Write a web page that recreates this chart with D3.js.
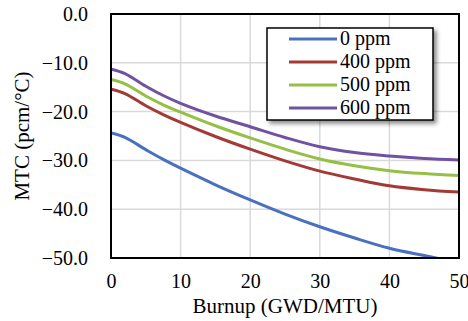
<!DOCTYPE html>
<html lang="en">
<head>
<meta charset="UTF-8">
<title>MTC vs Burnup</title>
<script src="https://d3js.org/d3.v7.min.js"></script>
<style>
    body { margin: 0; background: #ffffff; }
    svg { display: block; }
</style>
</head>
<body>
<svg id="chart" width="468" height="321"></svg>
<script>
    // data
    const burnup = [0, 2, 5, 7.5, 10, 15, 20, 25, 30, 35, 40, 45, 50];
    const mtc0 = [-24.4, -25.3, -27.8, -29.8, -31.6, -35.0, -38.1, -41.0, -43.6, -45.9, -48.0, -49.5, -50.9];
    const mtc400 = [-15.4, -16.3, -18.8, -20.6, -22.2, -25.1, -27.7, -30.1, -32.2, -33.8, -35.2, -36.0, -36.5];
    const mtc500 = [-13.4, -14.3, -16.8, -18.6, -20.1, -22.9, -25.4, -27.7, -29.7, -31.1, -32.1, -32.7, -33.1];
    const mtc600 = [-11.3, -12.2, -14.8, -16.7, -18.3, -20.9, -23.1, -25.3, -27.2, -28.4, -29.1, -29.6, -29.9];
    const seriesNames = ["0 ppm", "400 ppm", "500 ppm", "600 ppm"];
    const seriesColors = ["#4a70c0", "#a33a36", "#95bf45", "#7152a0"];
    const xTicks = [0, 10, 20, 30, 40, 50];
    const yTicks = [0, -10, -20, -30, -40, -50];

    const allSeries = [mtc0, mtc400, mtc500, mtc600];

    const margin = {top: 14, right: 9, bottom: 63, left: 111};
    const width = 468 - margin.left - margin.right;
    const height = 321 - margin.top - margin.bottom;

    const svg = d3.select("#chart");
    const g = svg.append("g").attr("transform", `translate(${margin.left},${margin.top})`);

    const x = d3.scaleLinear().domain([0, 50]).range([0, width]);
    const y = d3.scaleLinear().domain([-50, 0]).range([height, 0]);

    // grid lines
    g.append("g")
        .selectAll("line")
        .data(xTicks)
        .join("line")
        .attr("x1", d => x(d)).attr("x2", d => x(d))
        .attr("y1", 0).attr("y2", height)
        .attr("stroke", "#d9d9d9").attr("stroke-width", 1.5);
    g.append("g")
        .selectAll("line")
        .data(yTicks)
        .join("line")
        .attr("x1", 0).attr("x2", width)
        .attr("y1", d => y(d)).attr("y2", d => y(d))
        .attr("stroke", "#d9d9d9").attr("stroke-width", 1.5);

    // tick labels via axes
    const xAxis = g.append("g")
        .attr("transform", `translate(0,${height})`)
        .call(d3.axisBottom(x).tickValues(xTicks).tickSize(0).tickPadding(16).tickFormat(d3.format("d")));
    xAxis.select(".domain").remove();
    xAxis.attr("font-size", 20);

    const yAxis = g.append("g")
        .call(d3.axisLeft(y).tickValues(yTicks).tickSize(0).tickPadding(23).tickFormat(d3.format(".1f")));
    yAxis.select(".domain").remove();
    yAxis.attr("font-size", 20);

    // clip for lines
    g.append("clipPath").attr("id", "plotclip")
        .append("rect").attr("x", 0).attr("y", -2).attr("width", width).attr("height", height + 1);

    const line = d3.line()
        .x((d, i) => x(burnup[i]))
        .y(d => y(d))
        .curve(d3.curveCatmullRom.alpha(0.5));

    g.append("g").attr("clip-path", "url(#plotclip)")
        .selectAll("path")
        .data(allSeries)
        .join("path")
        .attr("d", d => line(d))
        .attr("fill", "none")
        .attr("stroke", (d, i) => seriesColors[i])
        .attr("stroke-width", 3);

    // frame
    g.append("rect")
        .attr("x", 0).attr("y", 0).attr("width", width).attr("height", height)
        .attr("fill", "none").attr("stroke", "#000").attr("stroke-width", 2);

    // axis titles
    svg.append("text")
        .attr("x", margin.left + width / 2).attr("y", 313)
        .attr("text-anchor", "middle").attr("font-size", 21)
        .text("Burnup (GWD/MTU)");
    svg.append("text")
        .attr("transform", `translate(29,${margin.top + height / 2}) rotate(-90)`)
        .attr("text-anchor", "middle").attr("font-size", 21)
        .text("MTC (pcm/°C)");

    // legend
    const defs = svg.append("defs");
    const filt = defs.append("filter").attr("id", "shadow")
        .attr("x", "-10%").attr("y", "-10%").attr("width", "130%").attr("height", "130%");
    filt.append("feDropShadow").attr("dx", 3).attr("dy", 3).attr("stdDeviation", 2)
        .attr("flood-color", "#000").attr("flood-opacity", 0.45);

    const legend = svg.append("g").attr("transform", "translate(267,28)");
    legend.append("rect")
        .attr("width", 166).attr("height", 92)
        .attr("fill", "#fff").attr("stroke", "#000").attr("stroke-width", 1.5)
        .attr("filter", "url(#shadow)");
    const items = legend.selectAll("g.item")
        .data(seriesNames)
        .join("g")
        .attr("class", "item")
        .attr("transform", (d, i) => `translate(0,${11 + i * 23})`);
    items.append("line")
        .attr("x1", 22).attr("x2", 70)
        .attr("stroke", (d, i) => seriesColors[i]).attr("stroke-width", 3);
    items.append("text")
        .attr("x", 73).attr("y", 6).attr("font-size", 20)
        .text(d => d);

    // Times-like serif everywhere (inline so it beats the axis defaults)
    svg.selectAll("text").style("font-family", "'Liberation Serif', serif").style("fill", "#000");
</script>
</body>
</html>
